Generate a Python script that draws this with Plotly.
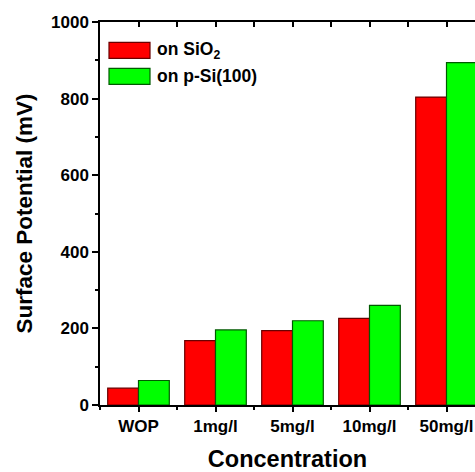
import plotly.graph_objects as go

categories = ["WOP", "1mg/l", "5mg/l", "10mg/l", "50mg/l"]
sio2_values = [44, 168, 194, 226, 804]
psi_values = [64, 196, 220, 260, 894]
y_ticks = [0, 200, 400, 600, 800, 1000]
series_names = ["on SiO<sub>2</sub>", "on p-Si(100)"]

FONT = "Liberation Sans, Arial, sans-serif"
xpos = list(range(len(categories)))

fig = go.Figure()
fig.add_trace(go.Bar(x=xpos, y=sio2_values, name=series_names[0],
                     marker=dict(color="#ff0000", line=dict(color="#6a0000", width=1.2)),
                     showlegend=False))
fig.add_trace(go.Bar(x=xpos, y=psi_values, name=series_names[1],
                     marker=dict(color="#00ff00", line=dict(color="#005a00", width=1.2)),
                     showlegend=False))
# invisible trace for top mirror axis
fig.add_trace(go.Scatter(x=[0], y=[0], xaxis="x2", mode="markers",
                         marker=dict(opacity=0), showlegend=False, hoverinfo="skip"))

xr = [-0.5, -0.5 + 375 / 77]

fig.update_layout(
    width=475, height=472,
    margin=dict(l=100, r=0, t=21.5, b=67),
    paper_bgcolor="white", plot_bgcolor="white",
    barmode="group", bargap=0.2, bargroupgap=0,
    font=dict(family=FONT, color="black"),
    xaxis=dict(
        range=xr, tickmode="array", tickvals=xpos, ticktext=categories,
        showline=True, linecolor="black", linewidth=1.5,
        ticks="outside", ticklen=5, tickwidth=1.5, tickcolor="black",
        minor=dict(tick0=-0.5, dtick=1, ticks="outside", ticklen=3,
                   tickwidth=1.5, tickcolor="black"),
        showgrid=False, zeroline=False,
        tickfont=dict(family=FONT, size=17, weight="bold"),
        title=dict(text="Concentration", font=dict(family=FONT, size=23.5, weight="bold"),
                   standoff=18),
        automargin=False,
    ),
    xaxis2=dict(
        range=xr, overlaying="x", side="top", anchor="y",
        tickmode="linear", tick0=-0.5, dtick=0.5,
        ticks="inside", ticklen=5, tickwidth=1.5, tickcolor="black",
        showticklabels=False, showline=True, linecolor="black", linewidth=1.5,
        showgrid=False, zeroline=False,
    ),
    yaxis=dict(
        range=[0, 1000], tickmode="array", tickvals=y_ticks,
        showline=True, linecolor="black", linewidth=1.5,
        ticks="outside", ticklen=6, tickwidth=1.5, tickcolor="black",
        minor=dict(tick0=0, dtick=100, ticks="outside", ticklen=3,
                   tickwidth=1.5, tickcolor="black"),
        showgrid=False, zeroline=False,
        tickfont=dict(family=FONT, size=17, weight="bold"),
        title=dict(text="Surface Potential (mV)",
                   font=dict(family=FONT, size=22.5, weight="bold"), standoff=12),
        automargin=False,
    ),
)

# Manual legend (swatches + labels) in paper coordinates
legend_colors = [("#ff0000", "#6a0000"), ("#00ff00", "#005a00")]
pw = 475 - 100
ph = 472 - 21.5 - 67
for i, (name, (fc, lc)) in enumerate(zip(series_names, legend_colors)):
    top = 42 + i * 26
    y0 = (472 - 67 - (top + 16)) / ph
    y1 = (472 - 67 - top) / ph
    fig.add_shape(type="rect", xref="paper", yref="paper",
                  x0=(109 - 100) / pw, x1=(150 - 100) / pw, y0=y0, y1=y1,
                  fillcolor=fc, line=dict(color=lc, width=1.2))
    fig.add_annotation(xref="paper", yref="paper", x=(155 - 100) / pw, y=(y0 + y1) / 2,
                       text=name, showarrow=False, xanchor="left", yanchor="middle",
                       font=dict(family=FONT, size=17.5, weight="bold"))

fig.write_html("out.html")
